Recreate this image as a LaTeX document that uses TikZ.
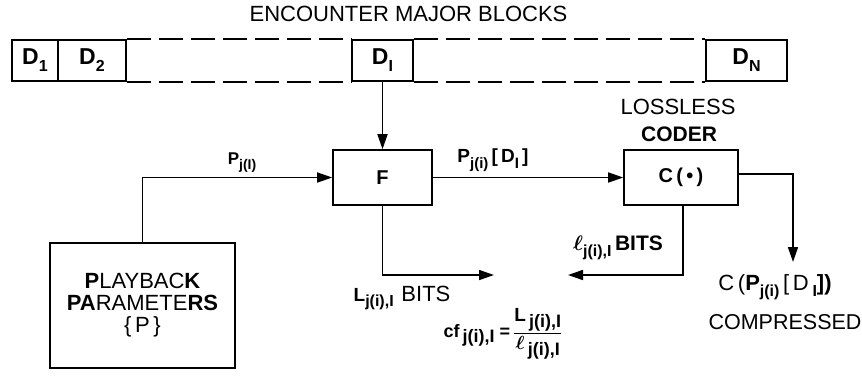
\RequirePackage{fix-cm}
\documentclass[tikz,border=0pt]{standalone}
\usepackage{fontspec}
\setmainfont{Liberation Sans}
\usetikzlibrary{arrows.meta}
\newcommand\sbt[2][14]{\raisebox{-0.3em}{\fontsize{#1}{#1}\selectfont #2}}
\newcommand\fs[1]{\fontsize{#1}{#1}\selectfont}
\begin{document}
\begin{tikzpicture}[x=1pt,y=-1pt,
  ln/.style={line width=1.6pt},
  arr/.style={ln,-{Triangle[length=15pt,width=10pt]}},
  blk/.style={draw,ln,inner sep=0pt,minimum height=41pt,font=\fs{23}\bfseries},
  fbox/.style={draw,ln,inner sep=0pt,minimum height=55pt,font=\fs{20}\bfseries},
  txt/.style={inner sep=0pt,anchor=center}]
\useasboundingbox (0,0) rectangle (862,384);
% top strip
\node[blk,minimum width=46pt] (d1) at (35,60.5) {D\sbt[16]{1}};
\node[blk,minimum width=68pt] (d2) at (92,60.5) {D\sbt[16]{2}\hspace{6pt}};
\node[blk,minimum width=61pt] (dI) at (382.5,60.5) {D\sbt[16]{I}};
\node[blk,minimum width=81pt] (dN) at (746.5,60.5) {D\sbt[16]{N}};
\draw[ln,dash pattern=on 24pt off 8pt] (d2.north east) -- (dI.north west);
\draw[ln,dash pattern=on 24pt off 8pt] (d2.south east) -- (dI.south west);
\draw[ln,dash pattern=on 24pt off 8pt] (dI.north east) -- (dN.north west);
\draw[ln,dash pattern=on 24pt off 8pt] (dI.south east) -- (dN.south west);
\node[txt,font=\fs{22}] (title) at (408.5,14) {ENCOUNTER MAJOR BLOCKS};
% boxes
\node[fbox,minimum width=99pt] (F) at (382.5,177.5) {F};
\node[fbox,minimum width=114pt] (C) at (681,177.5) {C\,(\,•\,)};
\node[draw,ln,minimum width=185pt,minimum height=125pt,inner sep=0pt,align=center,font=\fs{22}]
  (pb) at (142.5,305.5) {\baselineskip=23pt{\bfseries P}LAYBAC{\bfseries K}\\{\bfseries PA}RAMETE{\bfseries RS}\\\{\,P\,\}};
\node[txt,font=\fs{22}] (loss) at (678,107) {LOSSLESS};
\node[txt,font=\fs{21}\bfseries] (coder) at (679,134) {CODER};
% connectors
\draw[arr] (dI.south) -- (F.north);
\draw[arr] (pb.north) |- (F.west);
\draw[arr] (F.east) -- (C.west);
\coordinate (lt) at (494,275);
\coordinate (ct) at (568,275);
\coordinate (rt) at (793,262);
\draw[arr] (F.south) |- (lt);
\draw[arr] ([xshift=2pt]C.south) |- (ct);
\draw[arr] ([yshift=3.5pt]C.east) -| (rt);
% labels
\node[txt,font=\fs{17}\bfseries] (lp) at (242,163) {P\sbt[14]{j(I)}};
\node[txt,font=\fs{19}\bfseries] (lpd) at (493,160) {P\sbt[15]{j(i)}\,[\,D\sbt[15]{I}\,]};
\node[txt] (lL) at (402,298) {{\fs{19}\bfseries L\sbt[16]{j(i),I}}\,{\fs{22} BITS}};
\node[txt,font=\fs{21}\bfseries] (ll) at (618,248) {{\boldmath$\ell$}\sbt[16]{j(i),I}\,BITS};
\node[txt,font=\fs{22}] (cp) at (775,287) {C\,({\bfseries P\sbt[16]{j(i)}}\,[\,D\,\sbt[16]{\bfseries I}{\bfseries ])}};
\node[txt,font=\fs{21.5}] (comp) at (785,322) {COMPRESSED};
\node[txt,font=\fs{18}\bfseries] (cf) at (503,334) {cf\,\sbt[18]{j(i),I}\ =\,$\displaystyle\frac{\mbox{\fs{19}\bfseries L\,\sbt[18]{j(i),I}}}{\mbox{\fs{19}\bfseries\boldmath$\ell$\,\sbt[18]{j(i),I}}}$};
\end{tikzpicture}
\end{document}
